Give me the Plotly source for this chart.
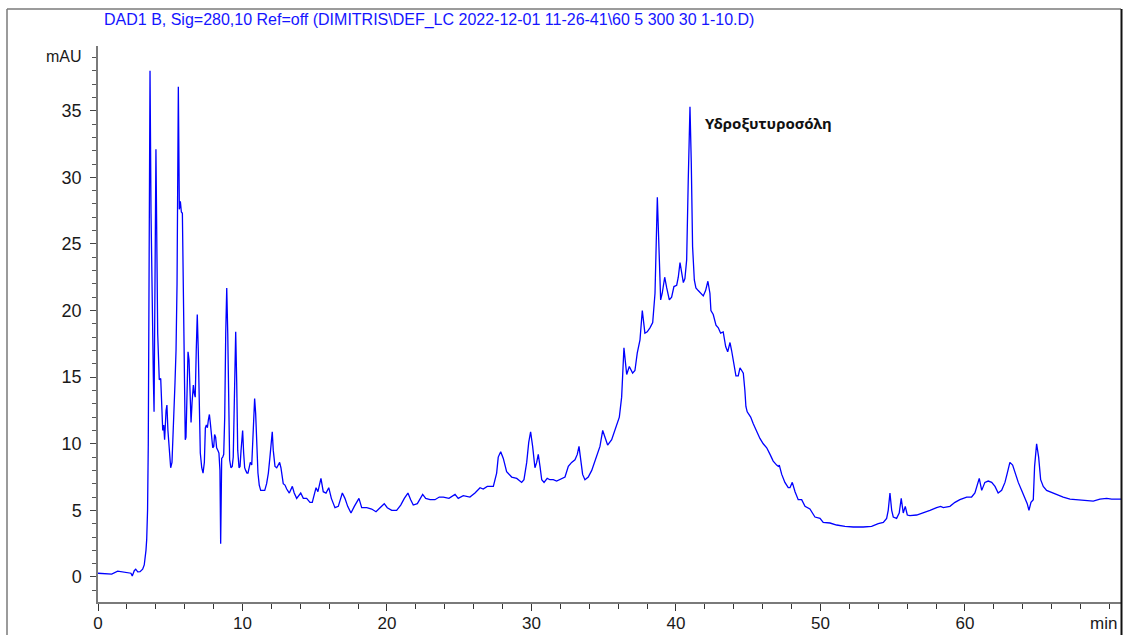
import plotly.graph_objects as go

# Retention time (min)
time_min = [
    0.00, 0.48, 0.95, 1.36, 1.66, 1.99, 2.28, 2.37, 2.51, 2.61, 2.75, 2.91, 3.09, 3.20, 3.27, 3.32, 3.37,
    3.43, 3.48, 3.53, 3.60, 3.67, 3.72, 3.83, 3.88, 4.01, 4.13, 4.20, 4.24, 4.34, 4.41, 4.48, 4.55, 4.61,
    4.71, 4.77, 4.84, 4.94, 5.03, 5.12, 5.21, 5.33, 5.40, 5.47, 5.56, 5.63, 5.70, 5.77, 5.84, 5.88, 5.97,
    6.04, 6.09, 6.16, 6.23, 6.30, 6.37, 6.44, 6.51, 6.60, 6.66, 6.73, 6.80, 6.87, 6.94, 7.01, 7.08, 7.18,
    7.27, 7.36, 7.43, 7.50, 7.57, 7.64, 7.71, 7.77, 7.84, 7.94, 8.01, 8.07, 8.14, 8.21, 8.30, 8.37, 8.44,
    8.49, 8.56, 8.63, 8.70, 8.77, 8.84, 8.91, 8.98, 9.04, 9.11, 9.20, 9.29, 9.36, 9.43, 9.53, 9.60, 9.67,
    9.76, 9.83, 9.90, 9.94, 10.01, 10.08, 10.15, 10.22, 10.31, 10.38, 10.45, 10.54, 10.64, 10.71, 10.78,
    10.84, 10.91, 10.98, 11.07, 11.16, 11.26, 11.40, 11.54, 11.67, 11.79, 11.90, 11.99, 12.06, 12.13,
    12.25, 12.37, 12.48, 12.57, 12.66, 12.75, 12.82, 12.94, 13.06, 13.24, 13.45, 13.58, 13.75, 14.03,
    14.21, 14.44, 14.67, 14.83, 15.09, 15.22, 15.43, 15.59, 15.78, 15.97, 16.15, 16.40, 16.63, 16.91,
    17.09, 17.28, 17.51, 17.74, 18.06, 18.25, 18.60, 18.94, 19.24, 19.52, 19.81, 20.02, 20.33, 20.67,
    20.95, 21.20, 21.45, 21.64, 21.82, 22.10, 22.28, 22.47, 22.68, 22.98, 23.32, 23.62, 23.90, 24.29,
    24.71, 24.93, 25.28, 25.74, 26.09, 26.44, 26.66, 26.94, 27.13, 27.36, 27.59, 27.70, 27.87, 28.05,
    28.28, 28.63, 28.98, 29.32, 29.48, 29.67, 29.81, 29.94, 30.08, 30.24, 30.36, 30.47, 30.59, 30.71,
    30.87, 31.09, 31.28, 31.51, 31.74, 32.09, 32.32, 32.55, 32.78, 33.01, 33.17, 33.29, 33.40, 33.54,
    33.70, 33.93, 34.17, 34.51, 34.74, 34.93, 35.09, 35.27, 35.55, 35.78, 36.08, 36.24, 36.40, 36.59,
    36.77, 37.00, 37.16, 37.32, 37.51, 37.67, 37.85, 38.01, 38.20, 38.39, 38.55, 38.71, 38.82, 38.94,
    39.05, 39.22, 39.36, 39.54, 39.70, 39.86, 40.05, 40.16, 40.28, 40.39, 40.51, 40.62, 40.74, 40.85,
    40.97, 41.06, 41.15, 41.27, 41.38, 41.54, 41.71, 41.89, 42.05, 42.21, 42.35, 42.42, 42.58, 42.77,
    42.93, 43.09, 43.27, 43.44, 43.58, 43.74, 43.85, 44.01, 44.15, 44.31, 44.43, 44.55, 44.66, 44.77,
    44.84, 44.93, 45.17, 45.35, 45.59, 45.81, 46.04, 46.28, 46.51, 46.73, 46.97, 47.08, 47.15, 47.32,
    47.54, 47.77, 47.89, 48.05, 48.24, 48.46, 48.70, 48.93, 49.27, 49.62, 49.97, 50.19, 50.66, 51.12,
    51.70, 52.27, 52.96, 53.54, 54.00, 54.35, 54.58, 54.69, 54.81, 54.93, 55.04, 55.27, 55.45, 55.59,
    55.73, 55.87, 56.01, 56.19, 56.66, 57.11, 57.58, 58.04, 58.32, 58.50, 58.96, 59.31, 59.65, 60.12,
    60.46, 60.69, 60.85, 60.99, 61.16, 61.38, 61.61, 61.85, 62.08, 62.30, 62.54, 62.77, 62.93, 63.11,
    63.30, 63.46, 63.69, 63.92, 64.15, 64.31, 64.43, 64.57, 64.73, 64.82, 64.96, 65.10, 65.24, 65.42,
    65.65, 65.88, 66.23, 66.46, 66.80, 67.27, 67.84, 68.88, 69.34, 69.81, 70.15, 70.80,
]

# Absorbance (mAU)
absorbance_mau = [
    0.28, 0.25, 0.22, 0.43, 0.38, 0.35, 0.28, 0.08, 0.47, 0.58, 0.38, 0.40, 0.58, 0.90, 1.4, 2.0, 2.8,
    5.0, 10.0, 20.0, 38.0, 27.3, 22.0, 15.0, 12.4, 32.1, 18.3, 15.4, 14.8, 14.9, 12.0, 11.0, 11.4, 10.3,
    12.5, 12.9, 11.0, 9.0, 8.2, 8.6, 10.8, 14.6, 17.0, 22.0, 36.8, 27.6, 28.2, 27.4, 27.3, 24.5, 17.0,
    10.3, 10.5, 13.5, 16.9, 16.3, 13.1, 11.6, 13.1, 14.4, 13.8, 13.5, 17.0, 19.7, 17.0, 12.0, 9.3, 8.2,
    7.8, 8.6, 11.2, 11.4, 11.2, 11.8, 12.2, 11.6, 10.5, 9.7, 9.8, 10.7, 10.5, 9.7, 9.5, 9.3, 8.0,
    2.5, 8.9, 9.0, 9.2, 12.0, 18.3, 21.7, 18.3, 12.0, 8.8, 8.2, 8.3, 9.0, 12.0, 18.4, 14.6, 9.5,
    8.2, 8.3, 9.5, 10.5, 11.0, 9.3, 8.2, 8.0, 7.8, 7.8, 8.3, 8.6, 8.4, 10.1, 12.0,
    13.4, 12.3, 9.5, 7.8, 6.9, 6.5, 6.5, 6.5, 7.0, 7.8, 9.0, 10.5, 10.9, 9.5,
    8.3, 8.2, 8.4, 8.6, 8.2, 7.5, 7.0, 6.9, 6.6, 6.3, 6.8, 6.3, 5.9, 6.3,
    5.9, 5.9, 5.6, 5.6, 6.7, 6.4, 7.4, 6.4, 6.3, 6.7, 5.9, 5.2, 5.3, 6.3,
    5.9, 5.3, 4.8, 5.3, 5.9, 5.2, 5.2, 5.1, 4.9, 5.2, 5.5, 5.2, 5.0, 5.0,
    5.4, 5.9, 6.3, 5.8, 5.4, 5.5, 5.9, 6.2, 5.9, 5.8, 5.8, 6.0, 6.0, 5.9,
    6.2, 5.9, 6.1, 6.0, 6.3, 6.7, 6.6, 6.8, 6.8, 6.8, 7.8, 9.0, 9.4, 8.9,
    7.9, 7.5, 7.4, 7.1, 7.3, 8.6, 10.1, 10.9, 9.8, 8.2, 8.6, 9.2, 8.3, 7.3,
    7.1, 7.4, 7.3, 7.3, 7.2, 7.4, 7.5, 8.3, 8.6, 8.8, 9.2, 9.8, 9.0, 7.7,
    7.3, 7.5, 8.0, 9.0, 9.8, 11.0, 10.4, 9.9, 10.3, 11.0, 12.0, 13.5, 17.2, 15.2,
    15.8, 15.3, 15.5, 16.8, 17.8, 20.0, 18.3, 18.4, 18.7, 19.1, 21.3, 28.5, 24.8, 20.8,
    21.3, 22.5, 21.7, 20.8, 21.0, 21.8, 21.9, 22.5, 23.6, 22.8, 22.1, 22.4, 23.8, 29.8,
    35.3, 31.1, 24.8, 22.3, 21.7, 21.5, 21.3, 21.1, 21.5, 22.2, 21.3, 20.0, 19.7, 18.9,
    18.7, 18.3, 18.4, 17.3, 16.9, 17.6, 17.0, 15.8, 15.1, 15.1, 15.7, 15.5, 15.3, 14.0,
    12.8, 12.4, 12.0, 11.5, 10.9, 10.4, 10.0, 9.7, 9.2, 8.7, 8.4, 8.3, 8.4, 7.7,
    7.1, 6.7, 6.7, 7.1, 6.4, 5.8, 5.8, 5.3, 5.1, 4.5, 4.4, 4.1, 4.05, 3.9,
    3.8, 3.75, 3.75, 3.8, 4.0, 4.1, 4.4, 5.0, 6.3, 5.0, 4.5, 4.4, 4.8, 5.9,
    4.8, 5.3, 4.65, 4.6, 4.65, 4.8, 5.0, 5.2, 5.3, 5.2, 5.3, 5.6, 5.8, 6.0,
    6.0, 6.3, 6.8, 7.4, 6.5, 7.1, 7.2, 7.1, 6.8, 6.3, 6.5, 7.1, 7.8, 8.6,
    8.4, 7.8, 7.1, 6.5, 5.9, 5.5, 5.0, 5.6, 5.8, 8.3, 10.0, 9.0, 7.3, 6.8,
    6.5, 6.4, 6.2, 6.1, 6.0, 5.85, 5.8, 5.7, 5.85, 5.9, 5.85, 5.85,
]

title_text = "DAD1 B, Sig=280,10 Ref=off (DIMITRIS\\DEF_LC 2022-12-01 11-26-41\\60 5 300 30 1-10.D)"
peak_label = "Υδροξυτυροσόλη"
peak_label_pos = (41.87, 34.1)
x_tick_vals = [0, 10, 20, 30, 40, 50, 60]
y_tick_vals = [0, 5, 10, 15, 20, 25, 30, 35]

fig = go.Figure()
fig.add_trace(go.Scatter(
    x=time_min, y=absorbance_mau, mode="lines",
    line=dict(color="#0000ff", width=1.3), showlegend=False, hoverinfo="skip",
))

font_main = "Liberation Sans, Arial, sans-serif"

fig.update_layout(
    width=1123, height=635,
    margin=dict(l=98, r=2, t=46, b=33, autoexpand=False),
    paper_bgcolor="white", plot_bgcolor="white",
    font=dict(family=font_main, color="#1a1a1a"),
    xaxis=dict(
        range=[0, 70.8], showgrid=False, zeroline=False, automargin=False,
        showline=True, linecolor="#7a7a7a", linewidth=2,
        tickmode="array", tickvals=x_tick_vals,
        ticks="outside", ticklen=7, tickwidth=1, tickcolor="#333333",
        ticklabelstandoff=-2,
        tickfont=dict(size=17, family=font_main, color="#1a1a1a"),
        minor=dict(dtick=2, tick0=0, ticks="outside", ticklen=5, tickwidth=1, tickcolor="#333333", showgrid=False),
    ),
    yaxis=dict(
        range=[-1.88, 39.86], showgrid=False, zeroline=False, automargin=False,
        showline=True, linecolor="#7a7a7a", linewidth=1.5,
        tickmode="array", tickvals=y_tick_vals,
        ticks="outside", ticklen=6, tickwidth=1, tickcolor="#444444",
        ticklabelstandoff=5,
        tickfont=dict(size=18, family=font_main, color="#1a1a1a"),
        minor=dict(dtick=1, tick0=0, ticks="outside", ticklen=4, tickwidth=1, tickcolor="#555555", showgrid=False),
    ),
    annotations=[
        dict(text=title_text, xref="paper", yref="paper", x=0.004, y=1.0468,
             xanchor="left", yanchor="middle", showarrow=False,
             font=dict(size=16, color="#1515ff", family=font_main)),
        dict(text="mAU", xref="paper", yref="paper", x=-0.0137, y=(602 - 57) / 556,
             xanchor="right", yanchor="middle", showarrow=False,
             font=dict(size=16, color="#1a1a1a", family=font_main)),
        dict(text="min", xref="paper", yref="paper", x=(1119 - 98) / 1023, y=(602 - 623) / 556,
             xanchor="right", yanchor="middle", showarrow=False,
             font=dict(size=17, color="#1a1a1a", family=font_main)),
        dict(text="<b>" + peak_label + "</b>", x=peak_label_pos[0], y=peak_label_pos[1],
             xref="x", yref="y", xanchor="left", yanchor="middle", showarrow=False,
             font=dict(size=15, color="#111111", family="Noto Sans, Open Sans, sans-serif")),
    ],
    shapes=[
        dict(type="line", xref="paper", yref="paper", x0=(7 - 98) / 1023, x1=(7 - 98) / 1023,
             y0=(602 - 9) / 556, y1=(602 - 640) / 556, line=dict(color="#7a7a7a", width=1.5)),
        dict(type="line", xref="paper", yref="paper", x0=(7 - 98) / 1023, x1=1.0,
             y0=(602 - 9) / 556, y1=(602 - 9) / 556, line=dict(color="#7a7a7a", width=1.5)),
        dict(type="line", xref="paper", yref="paper", x0=(1121.5 - 98) / 1023, x1=(1121.5 - 98) / 1023,
             y0=(602 - 9) / 556, y1=(602 - 640) / 556, line=dict(color="#111111", width=2)),
    ],
)

fig.write_html("out.html")
